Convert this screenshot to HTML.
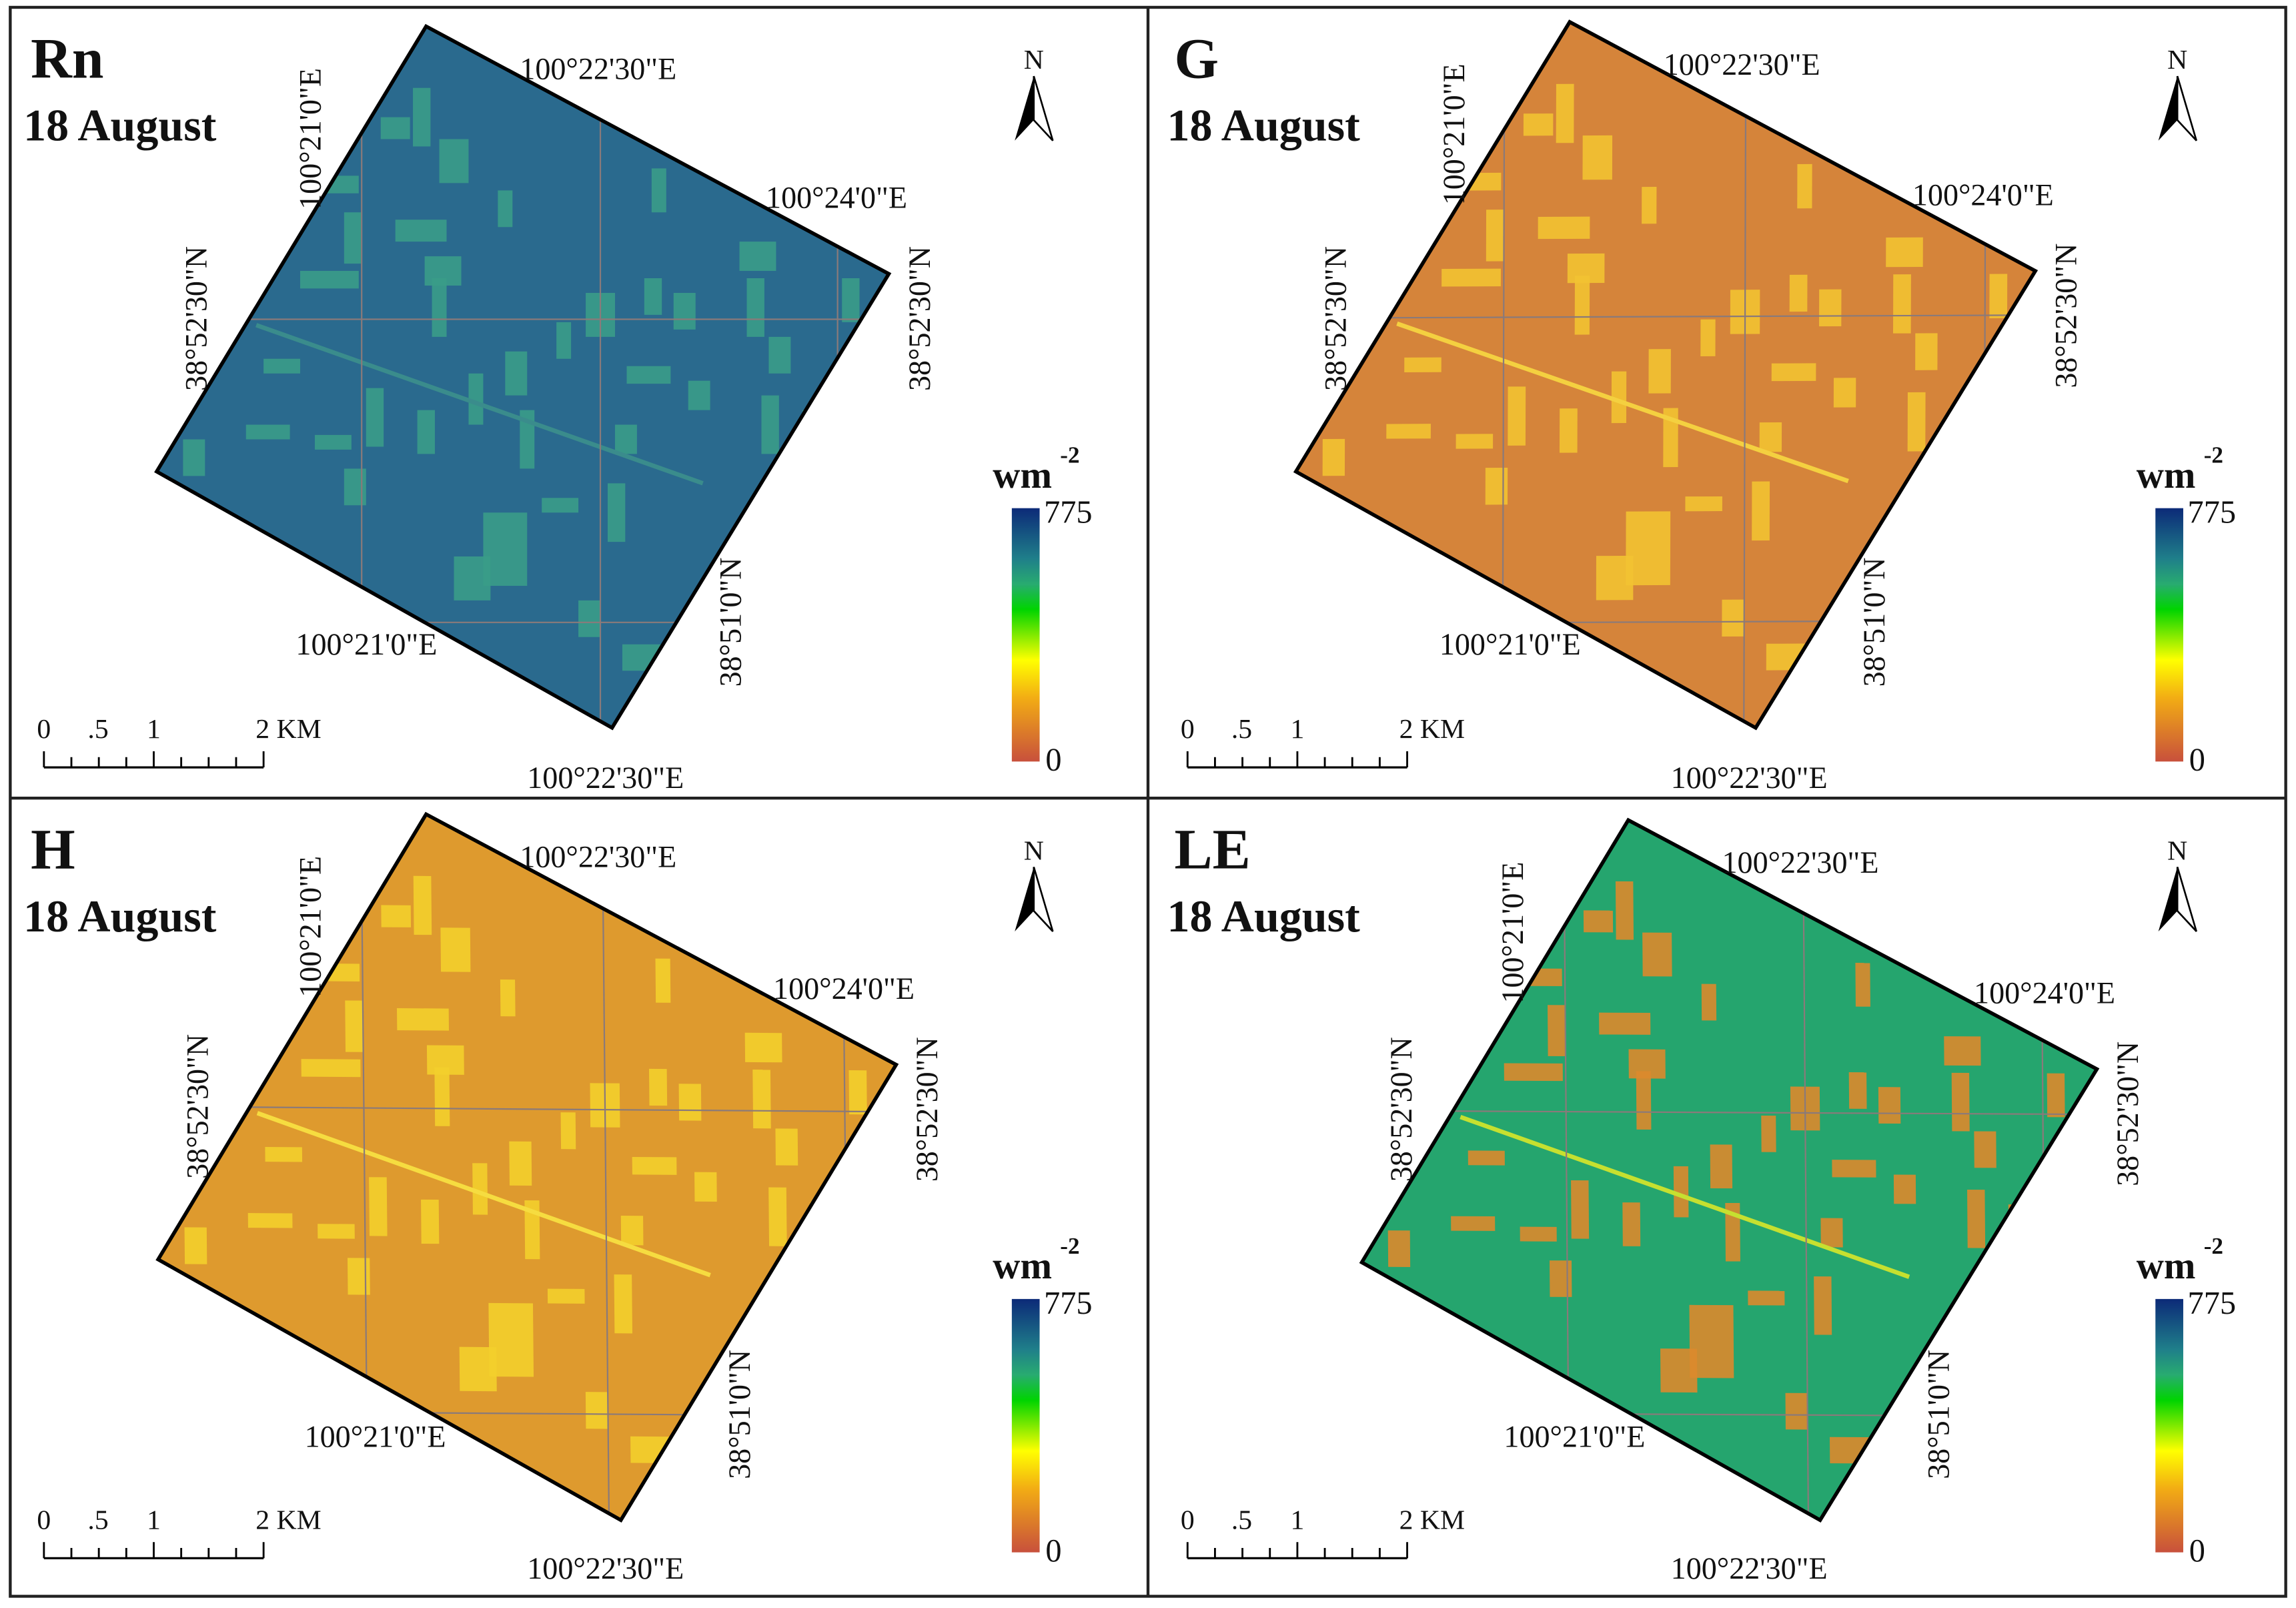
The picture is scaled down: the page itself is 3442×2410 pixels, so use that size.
<!DOCTYPE html>
<html><head><meta charset="utf-8"><style>
html,body{margin:0;padding:0;background:#fff}
svg{display:block}
text{font-family:"Liberation Serif",serif;fill:#111}
</style></head><body>
<svg id="fig" width="3442" height="2410" viewBox="0 0 1568 1098" preserveAspectRatio="none" xmlns="http://www.w3.org/2000/svg">
<defs>
<linearGradient id="cb" x1="0" y1="0" x2="0" y2="1">
<stop offset="0" stop-color="#0c2a78"/><stop offset="0.2" stop-color="#1f7f8a"/><stop offset="0.3" stop-color="#28ab70"/>
<stop offset="0.4" stop-color="#00d400"/><stop offset="0.6" stop-color="#ffff00"/><stop offset="0.75" stop-color="#f2ac14"/>
<stop offset="1" stop-color="#c8503c"/></linearGradient>
</defs>
<rect x="0" y="0" width="1568" height="1098" fill="#fff"/>
<g id="panels"></g>
<rect x="7" y="5" width="1554" height="1085" fill="none" stroke="#222" stroke-width="2"/>
<line x1="784" y1="5" x2="784" y2="1090" stroke="#222" stroke-width="2"/>
<line x1="7" y1="545" x2="1561" y2="545" stroke="#222" stroke-width="2"/>
</svg>
<script>
// Panel definitions (data)
const panelNames = ["Rn","G","H","LE"];
const panelBase = ["#2a6a8e","#d5843a","#de9a2e","#25a56e"];
const panelPatch = ["#3a9c88","#f2c232","#f3cf2c","#db8a2c"];
const panelRoad = ["#3a8c8c","#f4d040","#f6dc40","#c6e030"];
const panelOffsets = [[0,0],[781,0],[0,540],[781,540]];
// map square corners [L,T,R,B] for each panel in absolute coords
const squares = [
 [[107,322],[291,18],[607,187],[418,497]],
 [[885,322],[1072,15],[1390,185],[1199,497]],
 [[108,860],[291,556],[612,727],[424,1038]],
 [[930,862],[1112,560],[1432,730],[1243,1038]]
];
// bright field patches in Rn reference coords [x,y,w,h]
const patches = [[282,60,12,40],[300,95,20,30],[220,120,25,12],[235,145,12,35],[270,150,35,15],[290,175,25,20],[295,190,10,40],[205,185,40,12],[250,265,12,40],[168,290,30,10],[215,297,25,10],[235,320,15,25],[285,280,12,30],[320,255,10,35],[345,240,15,30],[380,220,10,25],[400,200,20,30],[440,190,12,25],[460,200,15,25],[505,165,25,20],[510,190,12,40],[520,270,12,40],[548,280,12,35],[525,230,15,25],[428,250,30,12],[355,280,10,40],[420,290,15,20],[330,350,30,50],[310,380,25,30],[370,340,25,10],[415,330,12,40],[425,440,28,18],[180,245,25,10],[340,130,10,25],[470,260,15,20],[395,410,15,25],[125,300,15,25],[575,190,12,30],[260,80,20,15],[445,115,10,30]];
const roadLine = [[175,222],[480,330]];
const gratV = [247,410,572];
const gratH = [218,425];
const NS="http://www.w3.org/2000/svg";
const root=document.getElementById('panels');
function mk(tag,attrs,parent){const e=document.createElementNS(NS,tag);for(const k in attrs)e.setAttribute(k,attrs[k]);parent.appendChild(e);return e;}
function txt(s,attrs,parent){const e=mk('text',attrs,parent);e.textContent=s;return e;}
const ref=squares[0];
function affine(sq){
 const [L0,T0,,B0]=ref,[L1,T1,,B1]=sq;
 const a=[T0[0]-L0[0],T0[1]-L0[1]],b=[B0[0]-L0[0],B0[1]-L0[1]];
 const c=[T1[0]-L1[0],T1[1]-L1[1]],d=[B1[0]-L1[0],B1[1]-L1[1]];
 const det=a[0]*b[1]-a[1]*b[0];
 const inv=[[b[1]/det,-b[0]/det],[-a[1]/det,a[0]/det]];
 const M=[[c[0]*inv[0][0]+d[0]*inv[1][0],c[0]*inv[0][1]+d[0]*inv[1][1]],[c[1]*inv[0][0]+d[1]*inv[1][0],c[1]*inv[0][1]+d[1]*inv[1][1]]];
 const e=L1[0]-(M[0][0]*L0[0]+M[0][1]*L0[1]),f=L1[1]-(M[1][0]*L0[0]+M[1][1]*L0[1]);
 return `matrix(${M[0][0]},${M[1][0]},${M[0][1]},${M[1][1]},${e},${f})`;
}
panelNames.forEach((nm,i)=>{
 const [ox,oy]=panelOffsets[i];const sq=squares[i];
 const g=mk('g',{},root);
 
 
 mk('clipPath',{id:'clip'+i},g);
 const cp=g.lastChild;mk('polygon',{points:sq.map(p=>p.join(',')).join(' ')},cp);
 const map=mk('g',{'clip-path':`url(#clip${i})`},g);
 
 
 mk('polygon',{points:sq.map(p=>p.join(',')).join(' '),fill:panelBase[i]},map);
 const inner=mk('g',{transform:affine(sq)},map);
 patches.forEach(p=>{
  const r=mk('rect',{x:p[0],y:p[1],width:p[2],height:p[3],fill:panelPatch[i],opacity:0.9},inner);
  
  
 });
 const rd=mk('line',{x1:roadLine[0][0],y1:roadLine[0][1],x2:roadLine[1][0],y2:roadLine[1][1],stroke:panelRoad[i],'stroke-width':3},inner);
 
 
 gratV.forEach(x=>{const l=mk('line',{x1:x,y1:0,x2:x,y2:520,stroke:'#8a7a7a','stroke-width':1},inner);});
 gratH.forEach(y=>{const l=mk('line',{x1:100,y1:y,x2:620,y2:y,stroke:'#8a7a7a','stroke-width':1},inner);});
 const bd=mk('polygon',{points:sq.map(p=>p.join(',')).join(' '),fill:'none',stroke:'#000','stroke-width':2.5},g);
 
 let t=txt(nm,{x:21+ox,y:53+oy,'font-size':39,'font-weight':'bold'},g);
 
 t=txt('18 August',{x:16+ox,y:96+oy,'font-size':31,'font-weight':'bold'},g);
 
 const [L,T,R,B]=sq;const fs=21;
 const lab=(s,x,y,rot,anchor)=>{const e=txt(s,{x:x,y:y,'font-size':fs,'text-anchor':anchor||'start',transform:rot?`rotate(-90 ${x} ${y})`:''},g);};
 lab('100°22\'30"E',T[0]+64,T[1]+36,false);
 lab('100°21\'0"E',T[0]-72,T[1]+125,true);
 lab('100°24\'0"E',R[0]-84,R[1]-45,false);
 lab('38°52\'30"N',L[0]+34,L[1]-55,true);
 lab('38°52\'30"N',R[0]+28,R[1]+80,true);
 lab('38°51\'0"N',B[0]+88,B[1]-28,true);
 lab('100°21\'0"E',B[0]-216,B[1]-50,false);
 lab('100°22\'30"E',ox+360,oy+538,false);
 const na=mk('g',{},g);
 txt('N',{x:706+ox,y:47+oy,'font-size':19,'text-anchor':'middle','font-family':'Liberation Sans'},na);
 mk('polygon',{points:`${706+ox},${52+oy} ${693+ox},${96+oy} ${706+ox},${82+oy}`,fill:'#000'},na);
 mk('polygon',{points:`${706+ox},${52+oy} ${719+ox},${96+oy} ${706+ox},${82+oy}`,fill:'#fff',stroke:'#000','stroke-width':1.2},na);
 const sb=mk('g',{},g);
 const sl=[['0',30],['.5',67],['1',105],['2 KM',197]];
 sl.forEach(s=>txt(s[0],{x:s[1]+ox,y:504+oy,'font-size':19,'text-anchor':'middle','font-family':'Liberation Sans'},sb));
 mk('line',{x1:30+ox,y1:524+oy,x2:180+ox,y2:524+oy,stroke:'#000','stroke-width':1.5},sb);
 for(let k=0;k<=8;k++){const x=30+ox+k*18.75;mk('line',{x1:x,y1:(k%4==0?513:517)+oy,x2:x,y2:524+oy,stroke:'#000','stroke-width':1.3},sb);}
 const cb=mk('g',{},g);
 mk('rect',{x:691+ox,y:347+oy,width:19,height:173,fill:'url(#cb)'},cb);
 txt('wm',{x:678+ox,y:333+oy,'font-size':26,'font-weight':'bold'},cb);
 txt('-2',{x:724+ox,y:316+oy,'font-size':16,'font-weight':'bold'},cb);
 txt('775',{x:713+ox,y:357+oy,'font-size':22},cb);
 txt('0',{x:714+ox,y:526+oy,'font-size':22},cb);
});
</script>
</body></html>
